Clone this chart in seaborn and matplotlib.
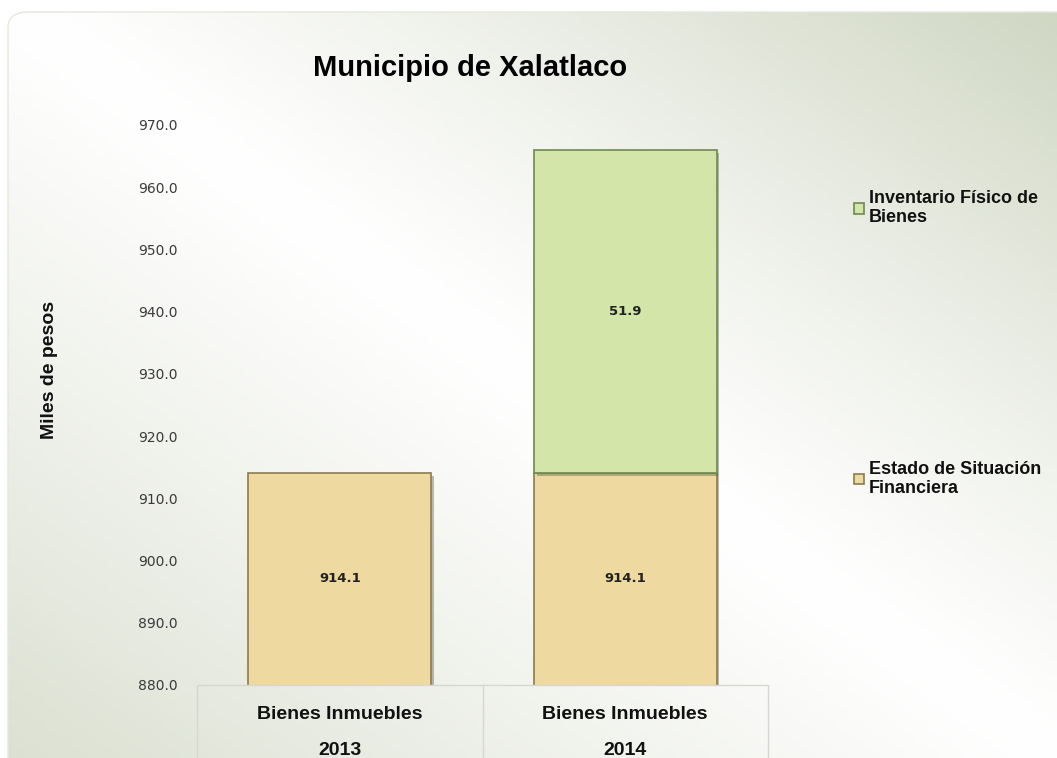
import numpy as np
import pandas as pd
import matplotlib
matplotlib.use("Agg")
import matplotlib.pyplot as plt
import matplotlib.patheffects as pe
from matplotlib.patches import FancyBboxPatch
from matplotlib.transforms import blended_transform_factory
import seaborn as sns

# ---- data ----
categories = ["2013", "2014"]
cat_labels = ["Bienes Inmuebles\n2013", "Bienes Inmuebles\n2014"]
estado_values = [914.1, 914.1]
inventario_cats = ["2014"]
inventario_values = [51.9]
series_names = ["Estado de Situación\nFinanciera", "Inventario Físico de\nBienes"]
yticks = [880, 890, 900, 910, 920, 930, 940, 950, 960, 970]
title = "Municipio de Xalatlaco"
ylabel = "Miles de pesos"

c_estado = "#EED9A0"
c_inv = "#D3E5A9"

sns.set_theme(style="white")
plt.rcParams["font.family"] = ["Liberation Sans", "DejaVu Sans"]
plt.rcParams["text.color"] = "#111111"

fig = plt.figure(figsize=(10.57, 7.58), dpi=100)

# ---- background gradient panel ----
bg = fig.add_axes([0, 0, 1, 1], zorder=-10)
bg.set_axis_off()
H, W = 200, 280
yy, xx = np.mgrid[0:H, 0:W]
u = xx / (W - 1) - yy / (H - 1)
t = np.clip(u, 0, None) ** 1.2 * 1.0 + np.clip(-u, 0, None) ** 1.1 * 0.75
t = np.clip(t, 0, 1)
white = np.array([1.0, 1.0, 1.0])
green = np.array([0xCF, 0xD6, 0xC2]) / 255
img = white[None, None, :] * (1 - t[..., None]) + green[None, None, :] * t[..., None]
bg.set_xlim(0, 1)
bg.set_ylim(0, 1)
im = bg.imshow(img, extent=[0, 1, 0, 1], aspect="auto", origin="upper")
box = FancyBboxPatch((8 / 1057, -0.05), 1.2, 1 - 12 / 758 + 0.05,
                     boxstyle="round,pad=0,rounding_size=0.02",
                     transform=bg.transAxes, facecolor="none", edgecolor="#e4e8dc", lw=1)
bg.add_patch(box)
im.set_clip_path(box)

# ---- main axes ----
ax = fig.add_axes([197 / 1057, 1 - 685 / 758, (768 - 197) / 1057, (685 - 125) / 758])
ax.set_facecolor("none")

shadow = [pe.SimplePatchShadow(offset=(2, -2), alpha=0.35), pe.Normal()]
sns.barplot(x=categories, y=estado_values, order=categories, color=c_estado,
            saturation=1, width=0.64, edgecolor="#8C7B4E", linewidth=1.2, ax=ax,
            label=series_names[0])
base_inv = [estado_values[categories.index(c)] for c in inventario_cats]
sns.barplot(x=inventario_cats, y=inventario_values, order=categories, color=c_inv,
            saturation=1, width=0.64, edgecolor="#6E8A4E", linewidth=1.2, ax=ax,
            bottom=base_inv, label=series_names[1])
for p in ax.patches:
    p.set_path_effects(shadow)

ax.set_ylim(880, 970)
ax.set_xlim(-0.5, 1.5)
ax.set_yticks(yticks)
ax.set_yticklabels([f"{v:.1f}" for v in yticks], fontsize=10, color="#3a3a3a",
                   family="DejaVu Sans")
ax.tick_params(axis="y", length=0, pad=14)
ax.tick_params(axis="x", length=0, pad=15)
ax.set_xticks(range(len(categories)))
ax.set_xticklabels(cat_labels, fontsize=14, fontweight="bold", color="#111111",
                   linespacing=2.45, va="top")
for s in ax.spines.values():
    s.set_visible(False)
ax.set_xlabel("")
ax.set_ylabel("")

# table lines beneath the axis
tr = blended_transform_factory(ax.transData, ax.transAxes)
for xv in [-0.5, 0.5, 1.5]:
    ax.plot([xv, xv], [0, -0.2], transform=tr, color="#d6d8d0", lw=1, clip_on=False)
ax.plot([-0.5, 1.5], [0, 0], transform=tr, color="#d6d8d0", lw=1, clip_on=False)

# value labels (centre of visible segment)
ymin = ax.get_ylim()[0]
for c, v in zip(categories, estado_values):
    ax.text(categories.index(c), (ymin + v) / 2, f"{v:.1f}", ha="center", va="center",
            fontsize=9.5, fontweight="bold", color="#222222", family="DejaVu Sans")
for c, b, v in zip(inventario_cats, base_inv, inventario_values):
    ax.text(categories.index(c), b + v / 2, f"{v:.1f}", ha="center", va="center",
            fontsize=9.5, fontweight="bold", color="#222222", family="DejaVu Sans")

# legend
handles, labels = ax.get_legend_handles_labels()
leg = ax.legend(handles[::-1], labels[::-1], loc="upper left",
                bbox_to_anchor=(838 / 1057, 1 - 174 / 758), bbox_transform=fig.transFigure,
                frameon=False, handlelength=0.55, handleheight=0.55, handletextpad=0.25,
                labelspacing=13.0, prop={"weight": "bold", "size": 13})
for txt in leg.get_texts():
    txt.set_color("#111111")
    txt.set_linespacing(1.15)
for h in leg.legend_handles:
    h.set_path_effects([])

fig.text(470 / 1057, 1 - 68 / 758, title, ha="center", va="center", fontsize=21,
         fontweight="bold", color="#000000",
         family=["Liberation Sans Narrow", "DejaVu Sans Condensed", "Liberation Sans"])
fig.text(50 / 1057, 1 - 370 / 758, ylabel, rotation=90, ha="center", va="center",
         fontsize=14, fontweight="bold", color="#111111")

fig.savefig("out.png", dpi=100)
